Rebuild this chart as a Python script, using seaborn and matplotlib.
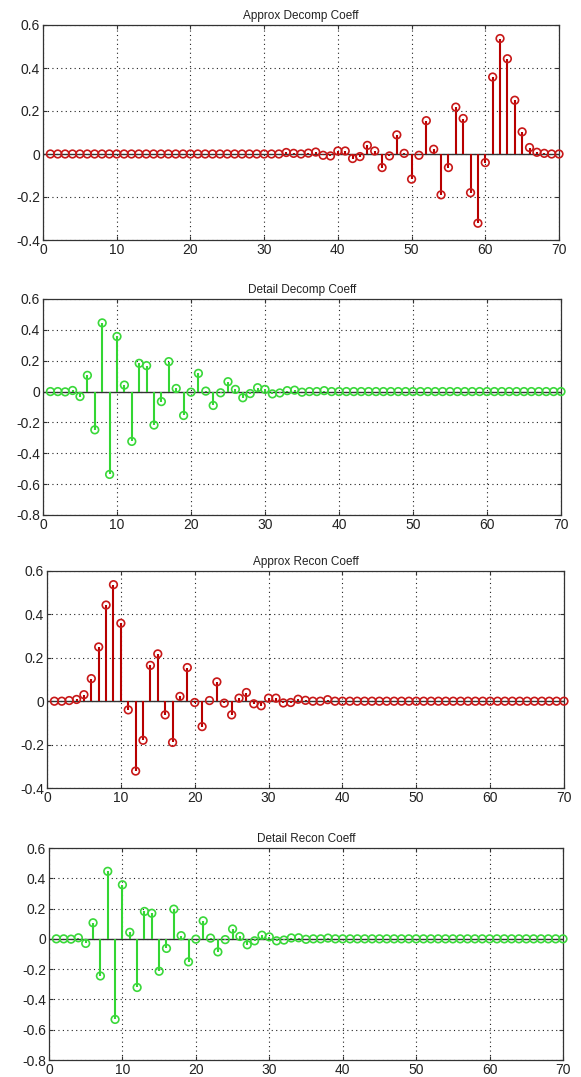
import numpy as np
import pandas as pd
import matplotlib
matplotlib.use("Agg")
import matplotlib.pyplot as plt
import seaborn as sns

# ---- data ----
n_idx = list(range(1, 71))

approx_decomp = [0.0] * 32 + [
    0.007, 0.003, 0.0, 0.004, 0.009, -0.006, -0.009, 0.014, 0.014, -0.021,
    -0.012, 0.040, 0.014, -0.063, -0.009, 0.089, 0.003, -0.117, -0.006, 0.155,
    0.022, -0.190, -0.063, 0.218, 0.165, -0.180, -0.322, -0.040, 0.358, 0.537,
    0.443, 0.250, 0.103, 0.030, 0.008, 0.003, 0.0, 0.0]

detail_decomp = [
    0.0, 0.0, -0.002, 0.007, -0.032, 0.105, -0.248, 0.445, -0.537, 0.357,
    0.042, -0.323, 0.183, 0.168, -0.217, -0.065, 0.194, 0.020, -0.155, -0.004,
    0.118, 0.003, -0.090, -0.008, 0.064, 0.014, -0.040, -0.013, 0.025, 0.014,
    -0.015, -0.009, 0.006, 0.009, -0.004, 0.0, 0.0, 0.006] + [0.0] * 32

approx_recon = [
    0.0, 0.0, 0.003, 0.008, 0.030, 0.104, 0.250, 0.443, 0.537, 0.359,
    -0.040, -0.322, -0.180, 0.165, 0.218, -0.063, -0.190, 0.022, 0.155, -0.006,
    -0.117, 0.003, 0.089, -0.009, -0.063, 0.014, 0.040, -0.012, -0.021, 0.014,
    0.014, -0.008, -0.006, 0.009, 0.004, 0.0, 0.0, 0.007] + [0.0] * 32

detail_recon = [
    0.0, 0.0, -0.002, 0.007, -0.030, 0.106, -0.245, 0.446, -0.532, 0.357,
    0.043, -0.321, 0.181, 0.169, -0.214, -0.063, 0.196, 0.021, -0.152, -0.002,
    0.119, 0.005, -0.086, -0.005, 0.065, 0.016, -0.039, -0.013, 0.024, 0.013,
    -0.013, -0.008, 0.006, 0.007, -0.003, 0.0, 0.0, 0.005] + [0.0] * 32

titles = ["Approx Decomp Coeff", "Detail Decomp Coeff",
          "Approx Recon Coeff", "Detail Recon Coeff"]
series = [approx_decomp, detail_decomp, approx_recon, detail_recon]
ylims = [(-0.4, 0.6), (-0.8, 0.6), (-0.4, 0.6), (-0.8, 0.6)]
xticks = [0, 10, 20, 30, 40, 50, 60, 70]

# ---- styling ----
sns.set_theme(style="white")
plt.rcParams["font.family"] = ["Liberation Sans", "DejaVu Sans"]

W, H = 581, 1077
fig = plt.figure(figsize=(W / 100, H / 100), dpi=100)

# axes boxes in pixels: left, top, right, bottom
boxes = [(43, 25, 559, 240), (43, 299, 561, 515),
         (47, 571, 564, 788), (49, 848, 563, 1060)]
marker_cols = ["#c81818", "#3ad83a", "#c81818", "#3ad83a"]
stem_cols = ["#b80000", "#33d633", "#b80000", "#33d633"]

for k in range(4):
    l, t, r, b = boxes[k]
    ax = fig.add_axes([l / W, 1 - b / H, (r - l) / W, (b - t) / H])
    df = pd.DataFrame({"n": n_idx, "v": series[k]})
    ax.axhline(0, color="#333333", lw=1.0, zorder=1)
    ax.vlines(df["n"], 0, df["v"], color=stem_cols[k], lw=1.5, zorder=2)
    sns.scatterplot(data=df, x="n", y="v", ax=ax, marker="o", s=30,
                    facecolors="none", edgecolor=marker_cols[k],
                    linewidth=1.2, zorder=3, legend=False, clip_on=False)
    ax.set_xlim(0, 70)
    ax.set_ylim(*ylims[k])
    ax.set_xticks(xticks)
    yt = np.round(np.arange(ylims[k][0], ylims[k][1] + 1e-9, 0.2), 1)
    ax.set_yticks(yt)
    ax.set_yticklabels(["0" if abs(v) < 1e-9 else f"{v:g}" for v in yt])
    ax.set_xlabel("")
    ax.set_ylabel("")
    ax.grid(True, color="#222222", linestyle=(0, (1, 3)), lw=0.8)
    ax.tick_params(direction="in", length=3, width=0.8, color="#333333",
                   top=True, right=True, bottom=True, left=True,
                   labelsize=10, labelcolor="#222222", pad=2)
    for sp in ax.spines.values():
        sp.set_color("#333333")
        sp.set_linewidth(0.9)
    ax.set_title(titles[k], fontsize=8.5, color="#222222", pad=4)

fig.savefig("out.png", dpi=100)
